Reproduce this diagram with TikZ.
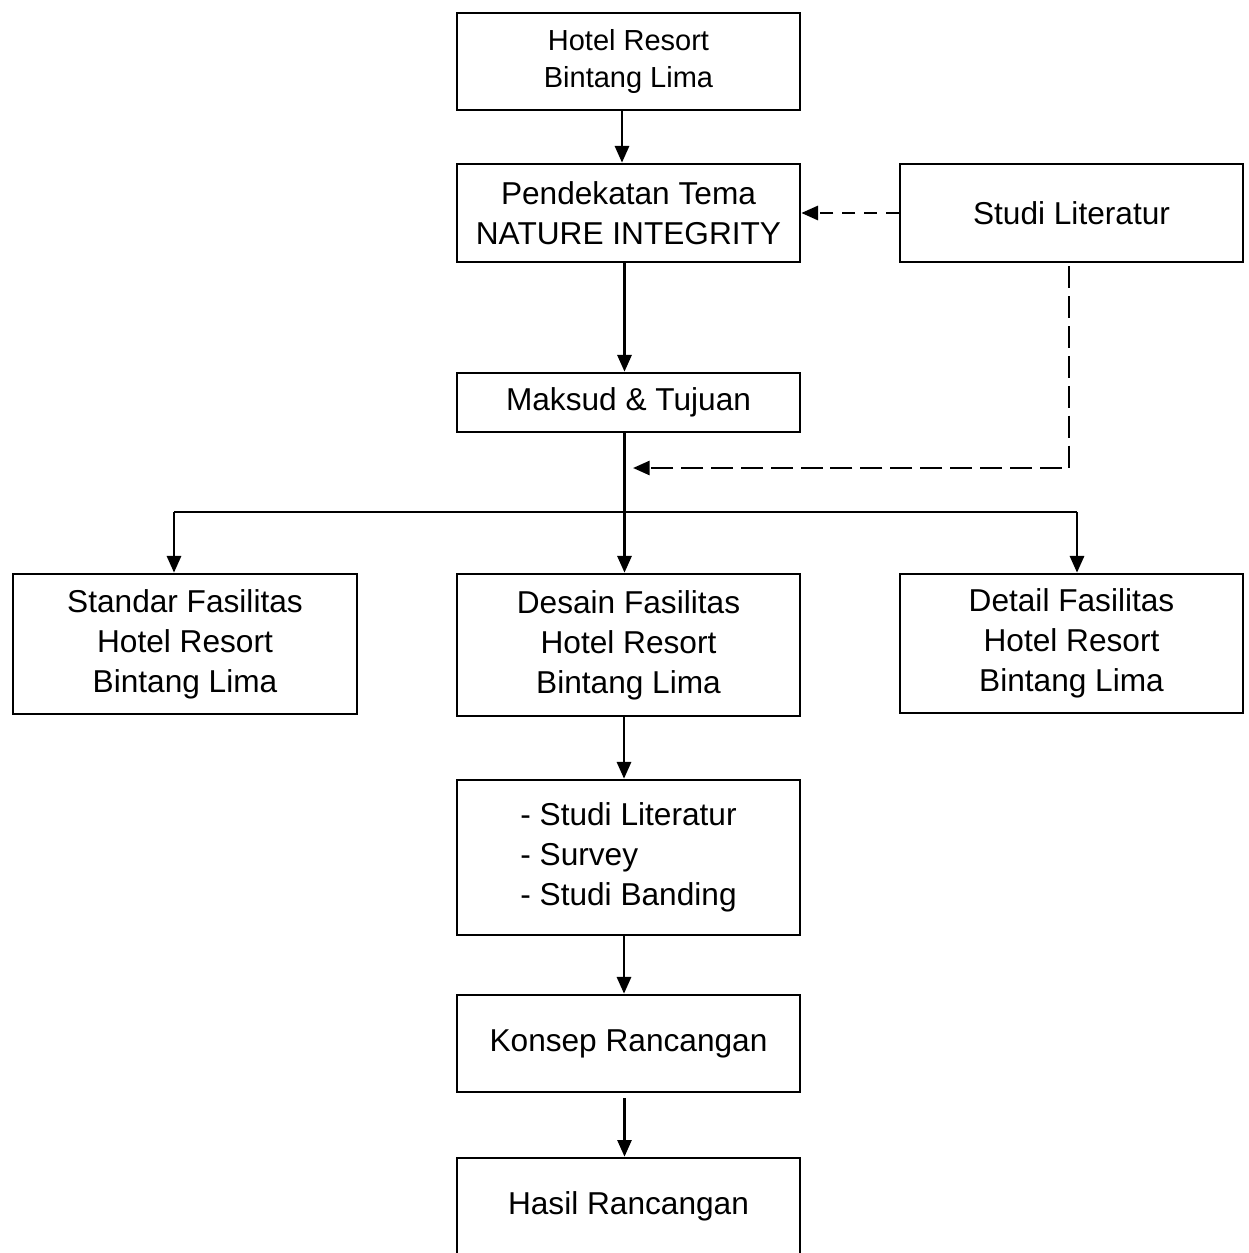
\documentclass[tikz,border=0pt]{standalone}
\usepackage{fontspec}
\setmainfont{Liberation Sans}
\usetikzlibrary{arrows.meta, positioning}

\begin{document}
\begin{tikzpicture}[
  box/.style={draw, line width=1.5pt, minimum width=6.86cm, align=center, inner sep=0pt,
    font=\fontsize{18}{22.8}\selectfont},
  arr/.style={line width=1.5pt, -{Triangle[length=9.5pt, width=8pt]}},
  dasharr/.style={arr, dash pattern=on 7.4pt off 5pt},
  longdash/.style={arr, dash pattern=on 12.5pt off 4.5pt}
]
\useasboundingbox (0,0) rectangle (24.96,-25.06);

% main column
\node[box, minimum height=1.94cm, font=\fontsize{16.5}{21.6}\selectfont] (hotel) at (12.57,-1.23) {Hotel Resort\\Bintang Lima};
\node[box, minimum height=1.96cm] (tema) at (12.57,-4.26) {Pendekatan Tema\\NATURE INTEGRITY};
\node[box, minimum height=1.96cm] (literatur) at (21.43,-4.26) {Studi Literatur};
\node[box, minimum height=1.18cm] (maksud) at (12.57,-8.05) {Maksud \& Tujuan};

% three branches
\node[box, minimum width=6.88cm, minimum height=2.80cm] (standar) at (3.70,-12.88) {Standar Fasilitas\\Hotel Resort\\Bintang Lima};
\node[box, minimum height=2.84cm] (desain) at (12.57,-12.90) {Desain Fasilitas\\Hotel Resort\\Bintang Lima};
\node[box, minimum height=2.78cm] (detail) at (21.43,-12.87) {Detail Fasilitas\\Hotel Resort\\Bintang Lima};

% lower column
\node[box, minimum height=3.10cm] (metode) at (12.57,-17.15) {\begin{tabular}{@{}l@{}}- Studi Literatur\\- Survey\\- Studi Banding\end{tabular}};
\node[box, minimum height=1.94cm] (konsep) at (12.57,-20.87) {Konsep Rancangan};
\node[box, minimum height=1.94cm] (hasil) at (12.57,-24.13) {Hasil Rancangan};

\coordinate (splitL) at (3.48,-10.24);
\coordinate (splitR) at (21.54,-10.24);
\coordinate (litturn) at (21.38,-9.36);
\coordinate (litend) at (12.66,-9.36);

\draw[arr] ([xshift=-0.13cm]hotel.south) -- ([xshift=-0.13cm]tema.north);
\draw[arr] ([xshift=-0.08cm]tema.south) -- ([xshift=-0.08cm]maksud.north);
\draw[dasharr] (literatur.west) -- (tema.east);
\draw[longdash] ([yshift=-0.06cm]literatur.south -| litturn) -- (litturn) -- (litend);
\draw[arr] ([xshift=-0.08cm]maksud.south) -- ([xshift=-0.08cm]desain.north);
\draw[line width=1.5pt] (splitL) -- (splitR);
\draw[arr] (splitL) -- (splitL |- standar.north);
\draw[arr] (splitR) -- (splitR |- detail.north);
\draw[arr] ([xshift=-0.09cm]desain.south) -- ([xshift=-0.09cm]metode.north);
\draw[arr] ([xshift=-0.09cm]metode.south) -- ([xshift=-0.09cm]konsep.north);
\draw[arr] ([xshift=-0.08cm,yshift=-0.1cm]konsep.south) -- ([xshift=-0.08cm]hasil.north);
\end{tikzpicture}
\end{document}
